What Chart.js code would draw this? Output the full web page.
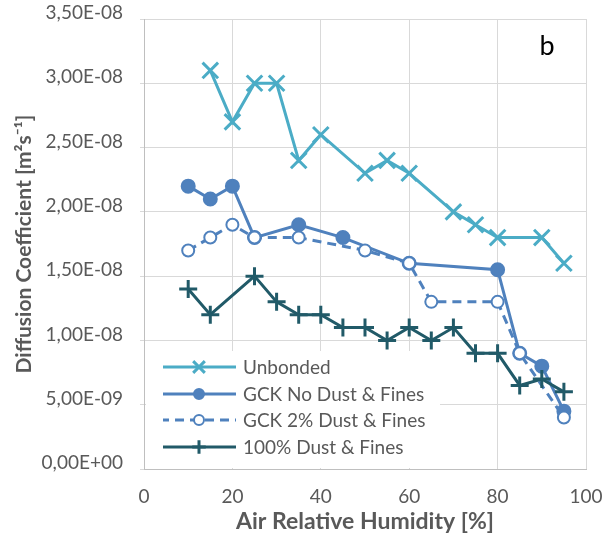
<!DOCTYPE html>
<html>
<head>
<meta charset="utf-8">
<script src="https://cdn.jsdelivr.net/npm/chart.js@4.4.1/dist/chart.umd.min.js"></script>
<style>
  body { margin: 0; background: #ffffff; }
  #wrap { width: 612px; height: 536px; }
</style>
</head>
<body>
<div id="wrap"><canvas id="chart" width="612" height="536"></canvas></div>
<script>
// humidity [%] and diffusion coefficient [m2/s] per series
const rhUnbonded = [15, 20, 25, 30, 35, 40, 50, 55, 60, 70, 75, 80, 90, 95];
const dUnbonded  = [3.1e-8, 2.7e-8, 3.0e-8, 3.0e-8, 2.4e-8, 2.6e-8, 2.3e-8, 2.4e-8, 2.3e-8, 2.0e-8, 1.9e-8, 1.8e-8, 1.8e-8, 1.6e-8];

const rhNoDust = [10, 15, 20, 25, 35, 45, 60, 80, 85, 90, 95];
const dNoDust  = [2.2e-8, 2.1e-8, 2.2e-8, 1.8e-8, 1.9e-8, 1.8e-8, 1.6e-8, 1.55e-8, 0.9e-8, 0.8e-8, 0.45e-8];

const rh2Dust = [10, 15, 20, 25, 35, 50, 60, 65, 80, 85, 95];
const d2Dust  = [1.7e-8, 1.8e-8, 1.9e-8, 1.8e-8, 1.8e-8, 1.7e-8, 1.6e-8, 1.3e-8, 1.3e-8, 0.9e-8, 0.4e-8];

const rh100Dust = [10, 15, 25, 30, 35, 40, 45, 50, 55, 60, 65, 70, 75, 80, 85, 90, 95];
const d100Dust  = [1.4e-8, 1.2e-8, 1.5e-8, 1.3e-8, 1.2e-8, 1.2e-8, 1.1e-8, 1.1e-8, 1.0e-8, 1.1e-8, 1.0e-8, 1.1e-8, 0.9e-8, 0.9e-8, 0.65e-8, 0.7e-8, 0.6e-8];

const seriesNames = ["Unbonded", "GCK No Dust & Fines", "GCK 2% Dust & Fines", "100% Dust & Fines"];

const xTitle = "Air Relative Humidity [%]";
const yTitle = "Diffusion Coefficient [m\u00B2s\u207B\u00B9]";
const panelLabel = "b";

const textColor = "#595959";
const gridColor = "#d9d9d9";
const fontName = "Lato";

function pairs(xs, ys) {
    return xs.map(function (x, i) { return {x: x, y: ys[i]}; });
}

// Excel-like "3,50E-08"
function sciLabel(v) {
    var s = Number(v).toExponential(2);
    var parts = s.split("e");
    var exp = parseInt(parts[1]);
    var sign = exp < 0 ? "-" : "+";
    var e = Math.abs(exp).toString();
    if (e.length == 1) e = "0" + e;
    return parts[0].replace(".", ",") + "E" + sign + e;
}

var datasets = [
    {
        label: seriesNames[0], data: pairs(rhUnbonded, dUnbonded),
        borderColor: "#4bacc6", backgroundColor: "#4bacc6", borderWidth: 3,
        pointStyle: "crossRot", pointRadius: 11, pointBorderWidth: 3,
        pointBorderColor: "#4bacc6", order: 4
    },
    {
        label: seriesNames[1], data: pairs(rhNoDust, dNoDust),
        borderColor: "#4f81bd", backgroundColor: "#4f81bd", borderWidth: 3,
        pointStyle: "circle", pointRadius: 6.5, pointBorderWidth: 2,
        pointBackgroundColor: "#4f81bd", pointBorderColor: "#4f81bd", order: 3
    },
    {
        label: seriesNames[2], data: pairs(rh2Dust, d2Dust),
        borderColor: "#4f81bd", backgroundColor: "#ffffff", borderWidth: 3,
        borderDash: [9, 6],
        pointStyle: "circle", pointRadius: 6, pointBorderWidth: 2,
        pointBackgroundColor: "#ffffff", pointBorderColor: "#4f81bd", order: 2
    },
    {
        label: seriesNames[3], data: pairs(rh100Dust, d100Dust),
        borderColor: "#215a68", backgroundColor: "#215a68", borderWidth: 3,
        pointStyle: "cross", pointRadius: 9, pointBorderWidth: 3,
        pointBorderColor: "#215a68", order: 1
    }
];

// legend sits inside the plot, bottom left, on white
var insideLegend = {
    id: "insideLegend",
    beforeDatasetsDraw: function (chart) {
        var ctx = chart.ctx;
        var area = chart.chartArea;
        ctx.save();
        ctx.fillStyle = "#ffffff";
        ctx.fillRect(area.left + 2, 351, 438 - area.left, area.bottom - 352);

        var rowY = [367, 394, 420, 447];
        var x0 = 163, x1 = 236, xm = 199;
        chart.data.datasets.forEach(function (ds, i) {
            var y = rowY[i];
            ctx.beginPath();
            ctx.setLineDash(ds.borderDash || []);
            ctx.lineDashOffset = ds.borderDash ? 3 : 0;
            ctx.strokeStyle = ds.borderColor;
            ctx.lineWidth = ds.borderWidth;
            ctx.moveTo(x0, y);
            ctx.lineTo(x1, y);
            ctx.stroke();
            ctx.setLineDash([]);

            ctx.fillStyle = ds.pointBackgroundColor || ds.borderColor;
            ctx.strokeStyle = ds.pointBorderColor;
            ctx.lineWidth = ds.pointBorderWidth;
            Chart.helpers.drawPoint(ctx, {
                pointStyle: ds.pointStyle,
                radius: ds.pointStyle == "circle" ? 5 : ds.pointRadius * 0.75,
                rotation: 0,
                borderWidth: ds.pointBorderWidth
            }, xm, y);

            ctx.fillStyle = textColor;
            ctx.font = "19px " + fontName;
            ctx.textBaseline = "middle";
            ctx.textAlign = "left";
            ctx.fillText(ds.label, 243, y + 1);
        });
        ctx.restore();
    },
    afterDraw: function (chart) {
        var ctx = chart.ctx;
        ctx.save();
        ctx.fillStyle = "#000000";
        ctx.font = "27px " + fontName;
        ctx.textAlign = "center";
        ctx.textBaseline = "middle";
        ctx.fillText(panelLabel, 547, 46);
        ctx.restore();
    }
};

new Chart(document.getElementById("chart"), {
    type: "line",
    data: {datasets: datasets},
    options: {
        responsive: false,
        animation: false,
        layout: {padding: {left: 0, top: 19, right: 26, bottom: 0}},
        plugins: {
            legend: {display: false},
            tooltip: {enabled: false}
        },
        scales: {
            x: {
                type: "linear",
                min: 0, max: 100,
                ticks: {
                    stepSize: 20,
                    color: textColor,
                    font: {family: fontName, size: 19},
                    padding: 16
                },
                grid: {color: gridColor, lineWidth: 1, drawTicks: false},
                border: {color: "#bfbfbf", width: 1},
                title: {
                    display: true, text: xTitle, color: textColor,
                    font: {family: fontName, size: 23, weight: "bold"},
                    padding: {top: 0, bottom: 1}
                },
                afterFit: function (scale) {
                    scale.height = 67;
                    scale.paddingLeft = 0;
                    scale.paddingRight = 0;
                }
            },
            y: {
                min: 0, max: 3.5e-8,
                ticks: {
                    stepSize: 0.5e-8,
                    color: textColor,
                    font: {family: fontName, size: 19},
                    padding: 17,
                    labelOffset: -6,
                    callback: function (v) { return sciLabel(v); }
                },
                grid: {color: gridColor, lineWidth: 1, tickLength: 4},
                border: {color: "#bfbfbf", width: 1},
                title: {
                    display: true, text: yTitle, color: textColor,
                    font: {family: fontName, size: 21, weight: "bold"},
                    padding: {top: 12, bottom: 0}
                },
                afterFit: function (scale) {
                    scale.width = 144;
                    scale.paddingTop = 0;
                    scale.paddingBottom = 0;
                }
            }
        }
    },
    plugins: [insideLegend]
});
</script>
</body>
</html>
